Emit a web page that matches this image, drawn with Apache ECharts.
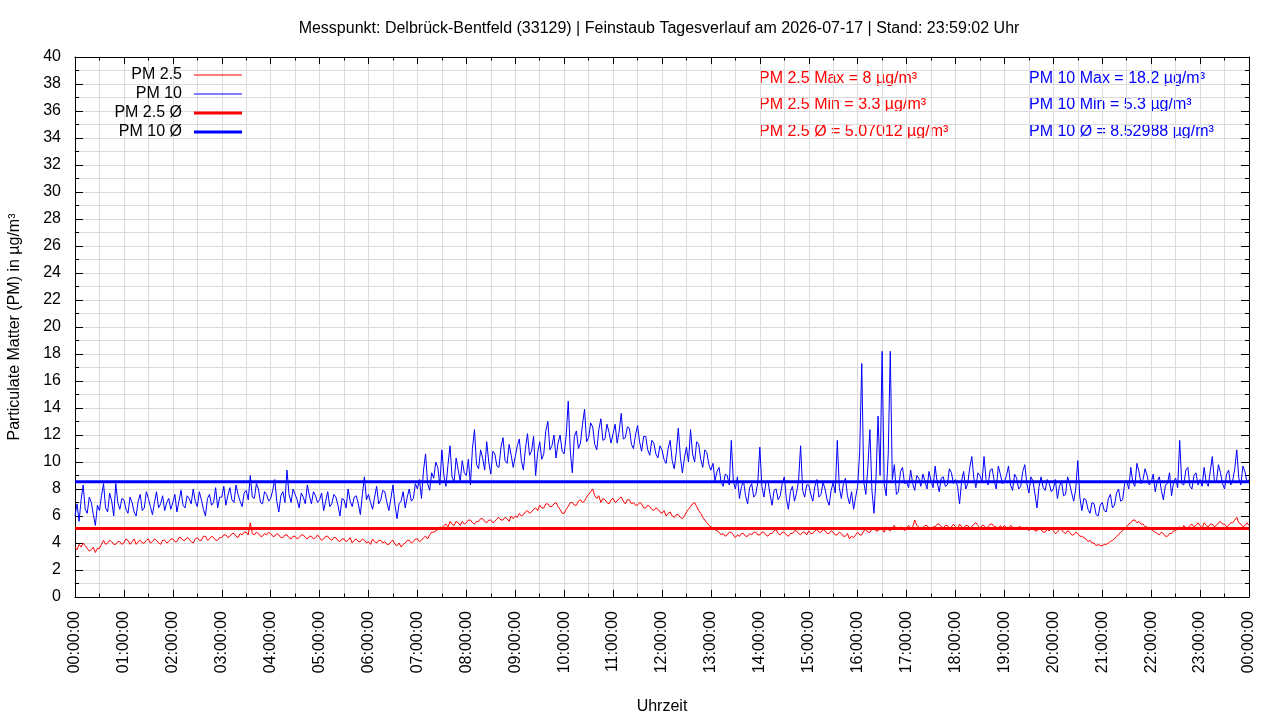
<!DOCTYPE html>
<html>
<head>
<meta charset="utf-8">
<script src="https://cdn.jsdelivr.net/npm/echarts@6/dist/echarts.min.js"></script>
<style>
html,body{margin:0;padding:0;background:#fff;}
#chart{width:1280px;height:720px;}
</style>
</head>
<body>
<div id="chart"></div>
<script>
// ---- data (2.5-minute samples) ----
const sampleMinutes = 2.5;
const pm10 = [
6.0,6.9,5.6,7.2,8.3,6.5,6.2,7.4,7.0,6.1,5.3,6.8,6.4,7.5,8.4,6.6,6.3,7.7,7.1,6.0,8.4,7.0,6.5,7.3,
7.2,6.5,6.2,7.4,7.0,6.3,6.0,7.1,7.6,6.4,6.6,7.8,7.3,6.7,6.1,7.0,7.8,6.6,6.9,7.5,6.4,7.0,7.3,6.5,
7.0,7.6,6.3,7.1,7.9,6.8,6.6,7.5,7.3,6.9,8.0,7.1,6.7,7.8,7.2,6.5,6.0,7.3,7.6,6.8,7.0,8.1,6.6,7.4,
7.4,8.2,6.8,7.5,8.1,7.2,7.0,8.3,7.6,7.1,6.7,7.7,7.9,7.2,9.0,7.4,7.3,8.4,8.0,7.0,6.9,7.8,7.6,7.1,
7.3,7.9,8.7,7.1,6.3,7.5,7.8,7.0,9.4,7.6,7.0,8.0,7.6,7.2,6.6,7.7,7.4,6.9,8.3,7.5,6.9,7.8,7.5,7.0,
7.2,7.7,6.4,7.1,7.8,6.7,6.9,7.6,7.4,6.8,6.0,7.3,7.2,6.6,8.0,7.1,6.7,7.4,7.5,6.9,6.1,7.6,8.9,7.2,
7.6,7.0,6.5,7.4,8.2,6.9,7.2,7.9,7.8,7.0,6.4,7.3,8.3,6.8,5.8,6.9,7.1,7.8,6.6,7.4,8.0,7.1,7.3,8.4,
8.0,8.7,7.3,9.4,10.6,8.4,7.9,9.2,8.8,10.0,9.6,8.3,10.9,9.0,8.2,9.8,11.2,8.9,8.5,10.3,9.4,8.6,10.1,9.2,
9.0,10.2,8.3,11.0,12.4,9.8,9.5,10.9,10.3,9.4,11.5,10.0,9.1,10.8,10.6,9.7,9.6,11.1,11.8,10.1,9.9,11.3,10.5,9.6,
10.4,11.2,11.7,10.1,9.4,11.0,12.1,10.5,10.8,11.9,9.0,10.7,11.5,10.2,10.6,12.3,13.0,10.9,11.2,12.0,10.3,11.4,12.0,10.8,
10.6,12.0,14.5,10.8,9.2,11.9,12.3,11.0,11.4,12.8,13.9,11.5,11.8,12.9,12.6,11.3,10.9,12.4,13.2,11.6,11.7,12.8,12.2,11.4,
12.1,12.8,11.4,12.3,13.6,11.7,11.8,12.6,12.5,11.3,11.0,12.0,12.7,11.5,10.8,11.9,11.9,10.9,10.5,11.6,11.4,10.6,10.3,11.2,
10.9,10.2,9.9,11.0,11.6,10.1,9.5,10.7,12.5,10.4,9.2,10.3,11.1,10.0,12.4,10.6,10.0,11.5,11.3,10.2,9.6,10.9,10.7,9.8,
9.4,9.9,8.6,9.3,9.6,8.5,8.2,9.1,9.0,8.3,11.6,8.6,8.0,8.9,7.3,8.2,8.6,7.5,6.9,8.1,8.4,7.4,7.6,8.5,
11.1,8.2,7.4,8.5,8.6,7.6,6.8,7.9,8.0,7.2,7.5,8.4,8.9,7.3,6.5,7.8,8.2,7.1,7.7,8.6,11.2,7.9,7.4,8.3,
8.3,7.6,7.1,8.2,8.7,7.4,7.6,8.5,8.0,7.2,6.8,7.9,8.5,7.7,11.6,8.1,7.3,8.4,8.8,7.5,6.9,7.8,6.5,7.4,
8.2,10.8,17.3,8.5,7.6,9.6,12.4,7.9,6.2,8.8,13.4,9.0,18.2,8.4,7.5,10.6,18.2,8.7,9.8,7.6,7.8,9.3,9.6,8.4,
8.5,8.1,9.4,8.4,7.9,9.0,8.8,8.2,9.1,8.6,8.0,9.3,8.6,8.1,9.7,8.5,7.8,8.8,8.9,8.2,8.3,9.5,9.2,8.4,
8.7,8.2,6.9,8.6,9.3,8.0,8.4,9.6,10.4,8.8,8.1,9.2,9.0,8.5,10.4,8.7,8.3,9.4,9.5,8.6,8.0,9.7,9.1,8.4,
8.5,9.0,9.7,8.3,7.9,9.1,8.8,8.0,8.2,9.3,9.8,8.4,7.7,8.9,8.6,7.6,6.6,8.2,8.9,8.1,7.9,8.7,8.4,7.8,
8.0,8.7,7.3,8.2,8.6,7.5,7.6,8.9,8.4,7.7,7.1,8.0,10.1,7.4,6.4,7.3,7.2,6.5,6.2,7.0,6.9,6.1,6.0,6.8,
7.0,6.4,6.3,7.3,7.6,6.6,6.8,7.7,8.0,7.1,7.2,8.4,8.6,8.0,9.6,8.5,8.2,9.9,9.3,8.4,8.7,9.5,9.0,8.3,
8.5,9.1,7.8,8.6,8.9,7.9,7.2,8.3,8.4,9.2,7.5,8.5,8.8,8.1,11.6,8.4,8.3,9.4,9.6,8.2,8.0,9.0,9.2,8.3,
8.7,8.2,9.6,8.5,8.2,9.3,10.4,8.6,8.5,9.8,9.2,8.4,8.0,9.1,9.4,8.3,8.6,9.5,10.9,8.8,8.3,9.7,9.3,8.5,
8.7
];
const pm25 = [
3.7,3.5,3.9,3.7,4.0,3.8,3.6,3.4,3.5,3.7,3.3,3.6,3.6,3.9,4.2,3.9,4.0,4.2,4.1,3.9,3.9,4.1,4.1,3.9,
4.0,4.3,4.2,3.9,4.1,4.3,3.9,4.1,4.2,4.0,4.0,4.2,4.3,4.0,4.1,4.3,4.2,4.0,3.9,4.2,4.2,4.0,4.1,4.3,
4.3,4.1,4.1,4.4,4.4,4.2,4.2,4.4,4.3,4.1,4.0,4.3,4.4,4.2,4.2,4.5,4.5,4.2,4.3,4.5,4.4,4.2,4.2,4.4,
4.4,4.6,4.6,4.4,4.5,4.7,4.7,4.5,4.4,4.7,4.6,4.8,4.8,4.6,5.5,4.7,4.6,4.8,4.7,4.5,4.5,4.7,4.6,4.8,
4.7,4.5,4.5,4.7,4.6,4.4,4.4,4.6,4.6,4.4,4.3,4.5,4.5,4.3,4.4,4.6,4.6,4.4,4.3,4.5,4.5,4.3,4.4,4.6,
4.4,4.2,4.3,4.5,4.5,4.3,4.2,4.4,4.4,4.2,4.1,4.3,4.3,4.1,4.2,4.4,4.0,4.2,4.3,4.1,4.1,4.3,4.2,4.0,
4.1,3.9,4.3,4.1,4.0,4.2,4.2,4.0,4.1,3.9,3.9,4.1,4.2,3.9,3.8,4.0,3.7,3.9,4.0,4.2,4.2,4.0,4.1,4.3,
4.3,4.1,4.2,4.4,4.5,4.3,4.6,4.8,4.8,4.9,5.0,5.2,5.1,5.3,5.4,5.2,5.6,5.4,5.3,5.6,5.5,5.3,5.6,5.4,
5.5,5.7,5.7,5.5,5.4,5.6,5.6,5.8,5.8,5.6,5.5,5.7,5.7,5.5,5.6,5.8,5.9,5.7,5.7,5.9,5.8,5.6,6.0,5.8,
6.0,5.9,6.2,6.0,6.1,6.3,6.4,6.2,6.3,6.5,6.6,6.4,6.8,6.6,6.6,6.9,6.9,6.7,6.7,6.9,7.0,6.7,6.5,6.2,
6.2,6.5,6.7,7.0,7.0,6.8,6.8,7.1,7.2,7.0,7.1,7.4,7.6,7.8,8.0,7.5,7.3,7.5,7.0,7.3,7.2,7.0,6.9,7.2,
7.3,7.0,7.1,7.3,7.4,7.1,6.9,7.2,7.2,6.9,7.0,6.8,6.8,7.0,6.9,6.6,6.6,6.8,6.7,6.5,6.4,6.6,6.5,6.3,
6.2,6.4,6.0,6.2,6.3,6.0,5.9,6.1,6.1,5.9,5.8,6.0,6.3,6.5,6.7,6.9,7.0,6.7,6.4,6.2,5.9,5.7,5.5,5.3,
5.2,5.1,5.0,4.9,4.8,4.6,4.7,4.5,4.6,4.8,4.8,4.6,4.4,4.6,4.5,4.7,4.7,4.5,4.5,4.7,4.6,4.8,4.8,4.6,
4.6,4.8,4.8,4.6,4.5,4.7,4.7,4.9,5.0,4.7,4.6,4.8,4.8,4.6,4.5,4.7,4.7,4.9,4.9,4.7,4.6,4.8,4.8,4.6,
4.9,4.7,4.7,4.9,5.0,4.8,4.8,5.0,4.9,4.7,4.7,4.9,4.8,4.6,4.6,4.8,4.7,4.5,4.5,4.7,4.3,4.5,4.4,4.6,
4.8,4.6,4.6,4.9,5.0,4.8,4.8,5.0,5.1,4.9,4.9,5.1,5.0,4.8,5.2,5.0,4.9,5.1,5.3,5.0,5.0,5.2,5.1,4.9,
5.1,5.3,5.0,5.2,5.7,5.3,5.2,5.0,5.1,5.3,5.3,5.1,5.0,5.2,5.2,5.4,5.4,5.2,5.1,5.3,5.3,5.1,5.2,5.4,
5.2,5.0,5.4,5.2,5.1,5.3,5.3,5.1,5.2,5.4,5.5,5.3,5.1,5.3,5.3,5.1,5.2,5.4,5.4,5.2,5.2,5.0,5.3,5.1,
5.3,5.1,5.1,5.3,5.2,5.0,5.0,5.2,5.2,5.0,5.0,5.2,4.9,5.1,5.1,4.9,4.9,5.1,5.0,4.8,4.8,5.0,4.9,5.1,
4.9,4.7,4.8,5.0,5.0,4.8,4.7,4.9,4.8,4.6,4.6,4.8,4.7,4.5,4.5,4.4,4.3,4.1,4.2,4.0,4.0,3.8,3.9,3.8,
3.8,3.9,3.9,4.0,4.1,4.2,4.3,4.5,4.6,4.8,4.9,5.1,5.2,5.4,5.5,5.7,5.7,5.5,5.6,5.4,5.4,5.2,5.2,5.0,
5.0,4.9,4.8,4.7,4.6,4.8,4.7,4.5,4.5,4.7,4.7,4.9,4.9,5.1,5.2,5.0,5.3,5.1,5.1,5.3,5.4,5.2,5.3,5.5,
5.3,5.1,5.5,5.3,5.2,5.4,5.4,5.2,5.3,5.5,5.6,5.4,5.4,5.2,5.3,5.5,5.5,5.7,5.9,5.5,5.4,5.2,5.3,5.5,
5.3
];
const avg25 = 5.07012;
const avg10 = 8.52988;
const stats25 = { max: '8', min: '3.3', avg: '5.07012' };
const stats10 = { max: '18.2', min: '5.3', avg: '8.52988' };
const seriesNames = ['PM 2.5', 'PM 10', 'PM 2.5 Ø', 'PM 10 Ø'];
const titleText = 'Messpunkt: Delbrück-Bentfeld (33129) | Feinstaub Tagesverlauf am 2026-07-17 | Stand: 23:59:02 Uhr';
const yName = 'Particulate Matter (PM) in µg/m³';
const xName = 'Uhrzeit';

// ---- chart ----
const FONT = 'Liberation Sans';
const RED = '#ff0000', BLUE = '#0000ff';
const toPts = arr => arr.map((v, i) => [i * sampleMinutes / 60, v]);
const pad = n => (n < 10 ? '0' : '') + n;

const chart = echarts.init(document.getElementById('chart'), null, { renderer: 'canvas' });

const commonX = {
  type: 'value', min: 0, max: 24, interval: 1,
  axisLine: { show: true, onZero: false, lineStyle: { color: '#000', width: 1 } },
  axisTick: { show: true, inside: true, length: 7, lineStyle: { color: '#000' } },
  minorTick: { show: true, splitNumber: 2, length: 3.5, lineStyle: { color: '#000' } },
};
const commonY = {
  type: 'value', min: 0, max: 40, interval: 2,
  axisLine: { show: true, onZero: false, lineStyle: { color: '#000', width: 1 } },
  axisTick: { show: true, inside: true, length: 8, lineStyle: { color: '#000' } },
  minorTick: { show: true, splitNumber: 2, length: 4, lineStyle: { color: '#000' } },
};

function legendFor(name, top, h) {
  return {
    data: [name], right: 1033, top: top, align: 'right', orient: 'vertical',
    icon: 'rect', itemWidth: 48, itemHeight: h, selectedMode: false,
    textStyle: { fontFamily: FONT, fontSize: 16, color: '#000', padding: [0, 7, 0, 0] }
  };
}

function note(x, y, text, color) {
  return { type: 'text', left: x, top: y, silent: true,
    style: { text: text, fill: color, fontSize: 16, fontFamily: FONT } };
}

const option = {
  animation: false,
  backgroundColor: '#fff',
  title: {
    text: titleText, left: 654, top: 16, textAlign: 'center',
    textStyle: { fontFamily: FONT, fontSize: 16, fontWeight: 'normal', color: '#000' }
  },
  legend: [
    legendFor(seriesNames[0], 62, 1),
    legendFor(seriesNames[1], 81, 1),
    legendFor(seriesNames[2], 100, 3),
    legendFor(seriesNames[3], 119, 3)
  ],
  grid: { left: 75, right: 31, top: 57, bottom: 123, containLabel: false, outerBoundsMode: 'none' },
  xAxis: [
    Object.assign({}, commonX, {
      position: 'bottom',
      name: xName, nameLocation: 'middle', nameGap: 102,
      nameTextStyle: { fontFamily: FONT, fontSize: 16, color: '#000' },
      axisLabel: {
        rotate: 90, margin: 14, fontFamily: FONT, fontSize: 16, color: '#000',
        formatter: v => pad(v % 24) + ':00:00'
      },
      splitLine: { show: true, lineStyle: { color: '#dcdcdc', width: 1 } },
      minorSplitLine: { show: true, lineStyle: { color: '#dcdcdc', width: 1 } }
    }),
    Object.assign({}, commonX, {
      position: 'top', axisLabel: { show: false },
      splitLine: { show: false }
    })
  ],
  yAxis: [
    Object.assign({}, commonY, {
      position: 'left',
      name: yName, nameLocation: 'middle', nameGap: 52,
      nameTextStyle: { fontFamily: FONT, fontSize: 16, color: '#000' },
      axisLabel: { margin: 14, fontFamily: FONT, fontSize: 16, color: '#000' },
      splitLine: { show: true, lineStyle: { color: '#dcdcdc', width: 1 } },
      minorSplitLine: { show: true, lineStyle: { color: '#dcdcdc', width: 1 } }
    }),
    Object.assign({}, commonY, {
      position: 'right', axisLabel: { show: false },
      splitLine: { show: false }
    })
  ],
  series: [
    { name: seriesNames[0], type: 'line', data: toPts(pm25), showSymbol: false, symbol: 'none',
      color: RED, lineStyle: { color: RED, width: 1 }, z: 2 },
    { name: seriesNames[1], type: 'line', data: toPts(pm10), showSymbol: false, symbol: 'none',
      color: BLUE, lineStyle: { color: BLUE, width: 1 }, z: 2 },
    { name: seriesNames[2], type: 'line', data: [[0, avg25], [24, avg25]], showSymbol: false, symbol: 'none',
      color: RED, lineStyle: { color: RED, width: 3 }, z: 3 },
    { name: seriesNames[3], type: 'line', data: [[0, avg10], [24, avg10]], showSymbol: false, symbol: 'none',
      color: BLUE, lineStyle: { color: BLUE, width: 3 }, z: 3 }
  ],
  graphic: [
    note(759, 71, 'PM 2.5 Max = ' + stats25.max + ' µg/m³', RED),
    note(759, 97, 'PM 2.5 Min = ' + stats25.min + ' µg/m³', RED),
    note(759, 124, 'PM 2.5 Ø = ' + stats25.avg + ' µg/m³', RED),
    note(1029, 71, 'PM 10 Max = ' + stats10.max + ' µg/m³', BLUE),
    note(1029, 97, 'PM 10 Min = ' + stats10.min + ' µg/m³', BLUE),
    note(1029, 124, 'PM 10 Ø = ' + stats10.avg + ' µg/m³', BLUE)
  ]
};
chart.setOption(option);
</script>
</body>
</html>
